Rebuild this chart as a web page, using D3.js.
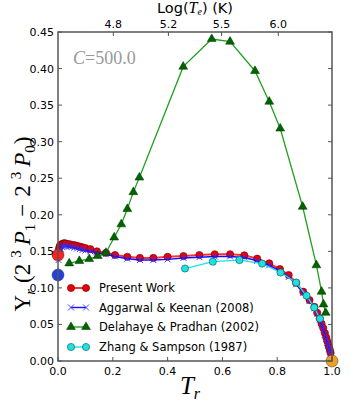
<!DOCTYPE html>
<html><head><meta charset="utf-8">
<script src="https://cdn.jsdelivr.net/npm/d3@7"></script>
<style>body{margin:0;background:#fff}svg{display:block}</style>
</head><body>
<div id="chart"></div>
<script>
// ---- data ----
const presentTr = [0.003,0.006,0.01,0.015,0.02,0.025,0.03,0.04,0.05,0.06,0.07,0.08,0.09,0.10,0.118,0.142,0.175,0.208,0.253,0.299,0.348,0.400,0.458,0.516,0.572,0.628,0.680,0.727,0.771,0.810,0.842,0.869,0.895,0.918,0.936,0.946,0.955,0.962,0.968,0.974,0.979,0.983,0.987,0.990,0.993,0.995];
const presentVal = [0.153,0.157,0.159,0.160,0.161,0.161,0.1605,0.160,0.159,0.1585,0.1575,0.1565,0.1555,0.1545,0.153,0.150,0.148,0.145,0.1425,0.141,0.141,0.1425,0.1435,0.145,0.146,0.146,0.1445,0.140,0.1336,0.1258,0.1176,0.107,0.0948,0.0834,0.074,0.066,0.058,0.051,0.045,0.038,0.032,0.027,0.022,0.018,0.014,0.011];
const aggarwalTr = [0.002,0.005,0.01,0.015,0.02,0.025,0.03,0.04,0.05,0.06,0.07,0.08,0.09,0.10,0.118,0.142,0.175,0.208,0.253,0.299,0.348,0.400,0.458,0.516,0.572,0.628,0.680,0.727,0.771,0.810,0.842,0.869,0.895,0.918,0.936,0.946,0.955,0.962,0.968,0.974,0.979,0.983,0.987,0.990,0.993,0.995];
const aggarwalVal = [0.138,0.148,0.153,0.156,0.157,0.157,0.157,0.1565,0.156,0.155,0.154,0.153,0.152,0.151,0.150,0.148,0.146,0.143,0.140,0.138,0.138,0.139,0.141,0.142,0.143,0.143,0.1415,0.137,0.131,0.123,0.115,0.105,0.093,0.082,0.072,0.064,0.056,0.049,0.043,0.036,0.030,0.025,0.021,0.017,0.013,0.010];
const delahayeTr = [0.041,0.078,0.114,0.145,0.175,0.205,0.231,0.253,0.275,0.297,0.457,0.561,0.628,0.719,0.771,0.811,0.893,0.943,0.962,0.969,0.977];
const delahayeVal = [0.1336,0.1368,0.1395,0.1436,0.148,0.169,0.187,0.208,0.231,0.251,0.4026,0.4404,0.4368,0.3967,0.3547,0.318,0.211,0.131,0.0948,0.0775,0.066];
const zhangTr = [0.4635,0.565,0.662,0.745,0.812,0.869,0.907,0.935,0.956];
const zhangVal = [0.1265,0.1358,0.138,0.1332,0.121,0.1073,0.0894,0.0732,0.058];
const limitTr = [0.0, 0.0, 1.0];
const limitVal = [0.145, 0.1176, 0.0];
const limitColor = ["#ff2020", "#2040e0", "#f0a020"];
const xTicks = [0.0,0.2,0.4,0.6,0.8,1.0];
const yTicks = [0.00,0.05,0.10,0.15,0.20,0.25,0.30,0.35,0.40,0.45];
const topTickLabels = ["4.8","5.2","5.5","6.0"];
const topTickPos = [0.202,0.403,0.597,0.804];
const legendLabels = ["Present Work","Aggarwal & Keenan (2008)","Delahaye & Pradhan (2002)","Zhang & Sampson (1987)"];

// ---- drawing ----
const W=353,H=402;
const svg=d3.select("#chart").append("svg").attr("width",W).attr("height",H);
const x=d3.scaleLinear().domain([0,1]).range([58,332]);
const y=d3.scaleLinear().domain([0,0.45]).range([361,32]);
const sans="'DejaVu Sans', sans-serif", serif="'Liberation Serif','DejaVu Serif',serif";
const frame="#555";

const zip=(a,b)=>a.map((v,i)=>[v,b[i]]);
const line=d3.line().x(d=>x(d[0])).y(d=>y(d[1]));
const plot=svg.append("g");

// Present work
const pw=zip(presentTr,presentVal);
plot.append("path").attr("d",line(pw)).attr("fill","none").attr("stroke","#ff3030").attr("stroke-width",2);
plot.selectAll(".pw").data(pw).enter().append("circle").attr("cx",d=>x(d[0])).attr("cy",d=>y(d[1])).attr("r",3.6)
  .attr("fill","#e8000a").attr("stroke","#600").attr("stroke-width",0.6);
// Aggarwal
const ag=zip(aggarwalTr,aggarwalVal);
plot.append("path").attr("d",line(ag)).attr("fill","none").attr("stroke","#1010ff").attr("stroke-width",1.5);
function xmark(g,cx,cy,s,c){g.append("path").attr("d",`M${cx-s},${cy-s}L${cx+s},${cy+s}M${cx-s},${cy+s}L${cx+s},${cy-s}`).attr("stroke",c).attr("stroke-width",0.9).attr("fill","none");}
ag.forEach(d=>xmark(plot,x(d[0]),y(d[1]),3,"#3030ff"));
// Delahaye
const de=zip(delahayeTr,delahayeVal);
plot.append("path").attr("d",line(de)).attr("fill","none").attr("stroke","#22a022").attr("stroke-width",1.3);
const tri=d3.symbol().type(d3.symbolTriangle).size(34);
plot.selectAll(".de").data(de).enter().append("path").attr("d",tri).attr("transform",d=>`translate(${x(d[0])},${y(d[1])})`)
  .attr("fill","#006400").attr("stroke","#003000").attr("stroke-width",0.5);
// Zhang
const zh=zip(zhangTr,zhangVal);
plot.append("path").attr("d",line(zh)).attr("fill","none").attr("stroke","#20e0e0").attr("stroke-width",1.3);
plot.selectAll(".zh").data(zh).enter().append("circle").attr("cx",d=>x(d[0])).attr("cy",d=>y(d[1])).attr("r",3.6)
  .attr("fill","#20e0e0").attr("stroke","#055").attr("stroke-width",0.6);
// limits
limitTr.forEach((t,i)=>{
  svg.append("circle").attr("cx",x(t)).attr("cy",y(limitVal[i])).attr("r",6).attr("fill",limitColor[i]).attr("stroke","#333").attr("stroke-width",0.5);
});

// frame
svg.append("rect").attr("x",58).attr("y",32).attr("width",274).attr("height",329).attr("fill","none").attr("stroke",frame).attr("stroke-width",1.5);

// axes
const tl=4;
xTicks.forEach(t=>{
  svg.append("line").attr("x1",x(t)).attr("x2",x(t)).attr("y1",361).attr("y2",361-tl).attr("stroke",frame);
  svg.append("text").attr("x",x(t)).attr("y",375).attr("text-anchor","middle").attr("font-family",sans).attr("font-size",11).text(t.toFixed(1));
});
yTicks.forEach(t=>{
  svg.append("line").attr("x1",58).attr("x2",58+tl).attr("y1",y(t)).attr("y2",y(t)).attr("stroke",frame);
  svg.append("line").attr("x1",332).attr("x2",332-tl).attr("y1",y(t)).attr("y2",y(t)).attr("stroke",frame);
  svg.append("text").attr("x",54).attr("y",y(t)+4).attr("text-anchor","end").attr("font-family",sans).attr("font-size",11).text(t.toFixed(2));
});
topTickPos.forEach((p,i)=>{
  svg.append("line").attr("x1",x(p)).attr("x2",x(p)).attr("y1",32).attr("y2",32+tl).attr("stroke",frame);
  svg.append("text").attr("x",x(p)).attr("y",28).attr("text-anchor","middle").attr("font-family",sans).attr("font-size",11).text(topTickLabels[i]);
});

// top label
const tt=svg.append("text").attr("x",195).attr("y",13).attr("text-anchor","middle").attr("font-family",sans).attr("font-size",14.5);
tt.append("tspan").text("Log(");
tt.append("tspan").attr("font-family",serif).attr("font-style","italic").attr("font-size",16).text("T");
tt.append("tspan").attr("font-family",serif).attr("font-style","italic").attr("font-size",10).attr("dy",2).text("e");
tt.append("tspan").attr("dy",-2).text(") (K)");

// x label
const xl=svg.append("text").attr("x",190).attr("y",394).attr("text-anchor","middle").attr("font-family",serif).attr("font-size",25).attr("font-style","italic");
xl.append("tspan").text("T");
xl.append("tspan").attr("font-size",16).attr("dy",5).text("r");

// y label
const yl=svg.append("text").attr("transform","translate(30,224) rotate(-90)").attr("text-anchor","middle").attr("font-family",serif).attr("font-size",23);
yl.append("tspan").text("Υ");
yl.append("tspan").attr("font-style","italic").attr("font-size",15).attr("dy",5).text("r");
yl.append("tspan").attr("dy",-5).attr("dx",6).text("(2");
yl.append("tspan").attr("font-size",15).attr("dy",-9).attr("dx",6).text("3");
yl.append("tspan").attr("font-style","italic").attr("dy",9).attr("dx",5).text("P");
yl.append("tspan").attr("font-size",15).attr("dy",5).text("1");
yl.append("tspan").attr("dy",-5).attr("dx",7).text("−");
yl.append("tspan").attr("dx",7).text("2");
yl.append("tspan").attr("font-size",15).attr("dy",-9).attr("dx",6).text("3");
yl.append("tspan").attr("font-style","italic").attr("dy",9).attr("dx",5).text("P");
yl.append("tspan").attr("font-size",15).attr("dy",5).text("0");
yl.append("tspan").attr("dy",-5).attr("dx",1).text(")");

// annotation
const an=svg.append("text").attr("x",73).attr("y",64).attr("font-family",serif).attr("font-size",18).attr("fill","#999");
an.append("tspan").attr("font-style","italic").text("C");
an.append("tspan").text("=500.0");

// legend
const lg=svg.append("g");
const ly=[288,307.5,327,347];
legendLabels.forEach((lab,i)=>{
  const yy=ly[i];
  const cols=["#ff3030","#1010ff","#22a022","#20e0e0"];
  lg.append("line").attr("x1",71).attr("x2",86).attr("y1",yy).attr("y2",yy).attr("stroke",cols[i]).attr("stroke-width",i===0?2:1.4);
  [71,86].forEach(cx=>{
    if(i===0) lg.append("circle").attr("cx",cx).attr("cy",yy).attr("r",3.6).attr("fill","#e8000a").attr("stroke","#600").attr("stroke-width",0.6);
    if(i===1) xmark(lg,cx,yy,3,"#3030ff");
    if(i===2) lg.append("path").attr("d",tri).attr("transform",`translate(${cx},${yy})`).attr("fill","#006400").attr("stroke","#003000").attr("stroke-width",0.5);
    if(i===3) lg.append("circle").attr("cx",cx).attr("cy",yy).attr("r",3.6).attr("fill","#20e0e0").attr("stroke","#055").attr("stroke-width",0.6);
  });
  lg.append("text").attr("x",99).attr("y",yy+4).attr("font-family",sans).attr("font-size",11.5).text(lab);
});
</script>
</body></html>
